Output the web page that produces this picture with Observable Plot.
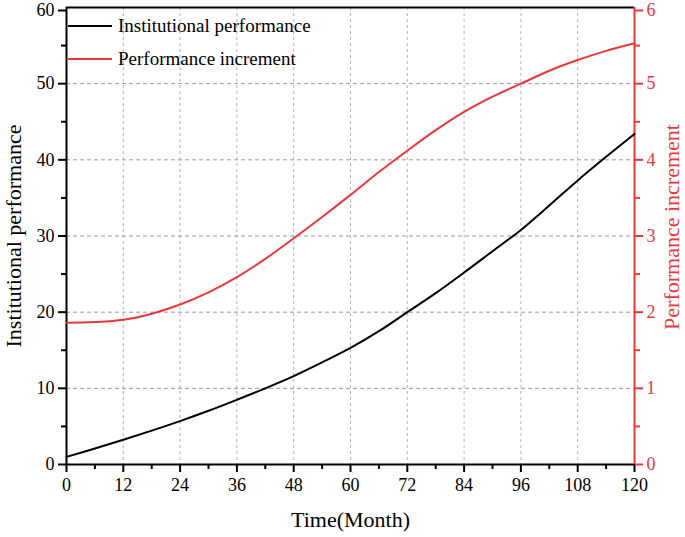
<!DOCTYPE html>
<html>
<head>
<meta charset="utf-8">
<script src="https://cdn.jsdelivr.net/npm/d3@7"></script>
<script src="https://cdn.jsdelivr.net/npm/@observablehq/plot@0.6"></script>
<style>
  html, body { margin: 0; padding: 0; background: #fff; }
  #wrap { position: relative; width: 685px; height: 537px; font-family: "Liberation Serif", "Times New Roman", serif; }
  #legend { position: absolute; left: 68px; top: 9px; font-size: 19px; color: #000; }
  #legend .row { display: flex; align-items: center; height: 33px; }
  #legend svg { margin-right: 6px; }
  svg g[aria-label="y-axis label"] text, svg g[aria-label="x-axis label"] text { font-size: 22px; }
</style>
</head>
<body>
<div id="wrap"><div id="legend"></div></div>
<script>
const months = [0, 6, 12, 18, 24, 30, 36, 42, 48, 54, 60, 66, 72, 78, 84, 90, 96, 102, 108, 114, 120];
const institutional = [1.0, 2.1, 3.25, 4.45, 5.7, 7.05, 8.5, 10.0, 11.6, 13.4, 15.3, 17.5, 20.0, 22.5, 25.2, 28.0, 30.8, 34.0, 37.3, 40.4, 43.4];
const increment = [1.86, 1.87, 1.90, 1.98, 2.10, 2.26, 2.46, 2.70, 2.97, 3.25, 3.54, 3.84, 4.12, 4.39, 4.63, 4.83, 5.00, 5.17, 5.31, 5.43, 5.53];
const xTicks = [0, 12, 24, 36, 48, 60, 72, 84, 96, 108, 120];
const xMinor = [6, 18, 30, 42, 54, 66, 78, 90, 102, 114];
const yTicks = [0, 10, 20, 30, 40, 50];
const yTop = [60];
const yMinor = [5, 15, 25, 35, 45, 55];
const rTicks = [0, 1, 2, 3, 4, 5];
const rTop = [6];
const rMinor = [0.5, 1.5, 2.5, 3.5, 4.5, 5.5];
const seriesNames = ["Institutional performance", "Performance increment"];
const colors = ["#000000", "#e8383d"];
const RATIO = 10; // right axis scale factor (left max 60 / right max 6)

const dataA = months.map((m, i) => ({month: m, v: institutional[i]}));
const dataB = months.map((m, i) => ({month: m, v: increment[i] * RATIO}));
const blank = () => "";
const rFmt = d => String(d / RATIO);

const chart = Plot.plot({
  width: 685,
  height: 537,
  marginLeft: 66,
  marginRight: 51,
  marginTop: 7,
  marginBottom: 73,
  style: {fontFamily: "'Liberation Serif', 'Times New Roman', serif", fontSize: "18px", background: "#fff", color: "#000", overflow: "visible"},
  x: {domain: [0, 120]},
  y: {domain: [0, 60]},
  marks: [
    Plot.gridX(xTicks.filter(d => d > 0 && d < 120), {stroke: "#b4b4b4", strokeOpacity: 1, strokeDasharray: "3,3", strokeWidth: 1}),
    Plot.gridY(yTicks.filter(d => d > 0), {stroke: "#999999", strokeOpacity: 1, strokeDasharray: "4,3", strokeWidth: 1}),
    Plot.axisX({ticks: xTicks, tickSize: 8, tickPadding: 6, strokeWidth: 2, label: "Time(Month)", labelAnchor: "center", labelArrow: "none", labelOffset: 62}),
    Plot.axisX({ticks: xMinor, tickSize: 5, tickFormat: blank, strokeWidth: 2, label: null}),
    Plot.axisY({ticks: yTicks, tickSize: 8, tickPadding: 4, strokeWidth: 2, label: "Institutional performance", labelAnchor: "center", labelArrow: "none", labelOffset: 61}),
    Plot.axisY({ticks: yTop, tickSize: 8, tickPadding: 4, strokeWidth: 2, dy: 3, label: null}),
    Plot.axisY({ticks: yMinor, tickSize: 5, tickFormat: blank, strokeWidth: 2, label: null}),
    Plot.axisY({anchor: "right", ticks: rTicks.map(d => d * RATIO), tickFormat: rFmt, tickSize: 8, tickPadding: 4, strokeWidth: 2, color: colors[1], label: null}),
    Plot.axisY({anchor: "right", ticks: rTop.map(d => d * RATIO), tickFormat: rFmt, tickSize: 8, tickPadding: 4, strokeWidth: 2, dy: 3, color: colors[1], label: null}),
    Plot.axisY({anchor: "right", ticks: rMinor.map(d => d * RATIO), tickFormat: blank, tickSize: 5, strokeWidth: 2, color: colors[1], label: null}),
    Plot.ruleY([0], {stroke: "#000", strokeWidth: 2}),
    Plot.ruleY([60], {stroke: "#000", strokeWidth: 2}),
    Plot.ruleX([0], {stroke: "#000", strokeWidth: 2}),
    Plot.ruleX([120], {stroke: colors[1], strokeWidth: 2}),
    Plot.line(dataB, {x: "month", y: "v", stroke: colors[1], strokeWidth: 2, curve: "catmull-rom"}),
    Plot.line(dataA, {x: "month", y: "v", stroke: colors[0], strokeWidth: 2, curve: "catmull-rom"})
  ]
});

// right axis title
const svg = d3.select(chart);
svg.append("text")
  .attr("transform", "translate(679,227) rotate(-90)")
  .attr("text-anchor", "middle")
  .attr("font-size", 22)
  .attr("fill", colors[1])
  .text("Performance increment");

const wrap = document.getElementById("wrap");
wrap.insertBefore(chart, wrap.firstChild);

const legend = document.getElementById("legend");
seriesNames.forEach((name, i) => {
  const row = document.createElement("div");
  row.className = "row";
  row.innerHTML = `<svg width="44" height="4"><line x1="0" x2="44" y1="2" y2="2" stroke="${colors[i]}" stroke-width="2"/></svg><span>${name}</span>`;
  legend.appendChild(row);
});
</script>
</body>
</html>
